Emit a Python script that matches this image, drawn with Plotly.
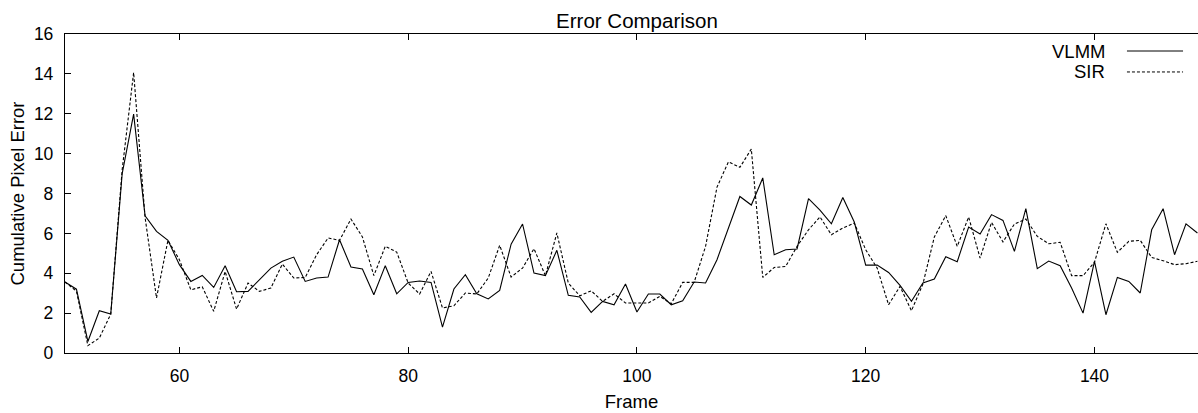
import plotly.graph_objects as go

frames = list(range(50, 150))

vlmm = [3.56, 3.2, 0.58, 2.12, 1.95, 9.0, 11.98, 6.88, 6.1, 5.65,
        4.43, 3.59, 3.89, 3.29, 4.38, 3.07, 3.09, 3.7, 4.26, 4.6,
        4.81, 3.59, 3.76, 3.81, 5.68, 4.31, 4.21, 2.92, 4.38, 2.97,
        3.54, 3.61, 3.54, 1.3, 3.21, 3.93, 2.97, 2.71, 3.14, 5.46,
        6.47, 4.01, 3.88, 5.15, 2.89, 2.81, 2.04, 2.59, 2.42, 3.46,
        2.06, 2.96, 2.96, 2.42, 2.62, 3.56, 3.51, 4.68, 6.27, 7.85,
        7.42, 8.78, 4.93, 5.18, 5.22, 7.74, 7.17, 6.48, 7.8, 6.57,
        4.41, 4.41, 4.04, 3.39, 2.59, 3.51, 3.71, 4.83, 4.58, 6.32,
        5.97, 6.94, 6.65, 5.1, 7.24, 4.23, 4.61, 4.38, 3.26, 2.0,
        4.6, 1.92, 3.79, 3.59, 3.01, 6.18, 7.24, 4.93, 6.48, 6.02]

sir = [3.56, 3.1, 0.37, 0.75, 1.95, 9.2, 14.07, 6.8, 2.76, 5.65,
       4.68, 3.17, 3.32, 2.09, 4.09, 2.2, 3.51, 3.09, 3.26, 4.46,
       3.76, 3.79, 4.93, 5.77, 5.65, 6.72, 5.82, 3.88, 5.35, 5.06,
       3.51, 2.96, 4.09, 2.26, 2.37, 3.01, 2.96, 3.76, 5.4, 3.81,
       4.26, 5.23, 3.88, 6.02, 3.51, 2.87, 3.12, 2.59, 2.97, 2.51,
       2.51, 2.51, 2.84, 2.47, 3.54, 3.54, 5.35, 8.32, 9.59, 9.31,
       10.23, 3.79, 4.29, 4.34, 5.35, 6.18, 6.83, 5.93, 6.27, 6.52,
       5.18, 4.26, 2.42, 3.34, 2.12, 3.46, 5.82, 6.89, 5.35, 6.82,
       4.76, 6.55, 5.57, 6.47, 6.72, 5.85, 5.48, 5.55, 3.88, 3.88,
       4.55, 6.48, 5.05, 5.6, 5.65, 4.79, 4.63, 4.43, 4.48, 4.6]

series_names = ["VLMM", "SIR"]
x_ticks = [60, 80, 100, 120, 140]
y_ticks = [0, 2, 4, 6, 8, 10, 12, 14, 16]

FONT = "Liberation Sans, Arial, Helvetica, sans-serif"
SIR_DASH = "3px,2px"

fig = go.Figure()
fig.add_trace(go.Scatter(x=frames, y=vlmm, mode="lines", name=series_names[0],
                         line=dict(color="black", width=1.1)))
fig.add_trace(go.Scatter(x=frames, y=sir, mode="lines", name=series_names[1],
                         line=dict(color="black", width=1.1, dash=SIR_DASH)))

# gnuplot-style legend: text then line sample
leg_y = [0.9467, 0.881]
for name, yy, dash in zip(series_names, leg_y, ["solid", SIR_DASH]):
    fig.add_annotation(xref="paper", yref="paper", x=0.9197, y=yy, text=name,
                       showarrow=False, xanchor="right", yanchor="middle",
                       font=dict(family=FONT, size=18.5, color="black"))
    fig.add_shape(type="line", xref="paper", yref="paper",
                  x0=0.9373, x1=0.9868, y0=yy, y1=yy,
                  line=dict(color="black", width=1, dash=dash))

fig.update_layout(
    template="none",
    width=1198, height=413,
    margin=dict(l=65, r=0, t=34, b=60),
    paper_bgcolor="white", plot_bgcolor="white",
    showlegend=False,
    font=dict(family=FONT, size=17.5, color="black"),
    title=dict(text="Error Comparison", x=0.5317, xanchor="center",
               y=0.95, yanchor="middle",
               font=dict(family=FONT, size=20.5, color="black")),
    xaxis=dict(range=[50, 149.05], tickvals=x_ticks, ticks="inside", ticklen=6,
               tickcolor="black", showline=True, linecolor="black", linewidth=1.3,
               mirror="ticks", showgrid=False, zeroline=False, automargin=False,
               ticklabelstandoff=7, tickfont=dict(size=17.5),
               title=dict(text="Frame", standoff=9, font=dict(size=18.5))),
    yaxis=dict(range=[0, 16], tickvals=y_ticks, ticks="inside", ticklen=6,
               tickcolor="black", showline=True, linecolor="black", linewidth=1.3,
               showgrid=False, zeroline=False, automargin=False,
               ticklabelstandoff=7, tickfont=dict(size=17.5),
               title=dict(text="Cumulative Pixel Error", standoff=4, font=dict(size=18.5))),
)

fig.write_html("out.html")
